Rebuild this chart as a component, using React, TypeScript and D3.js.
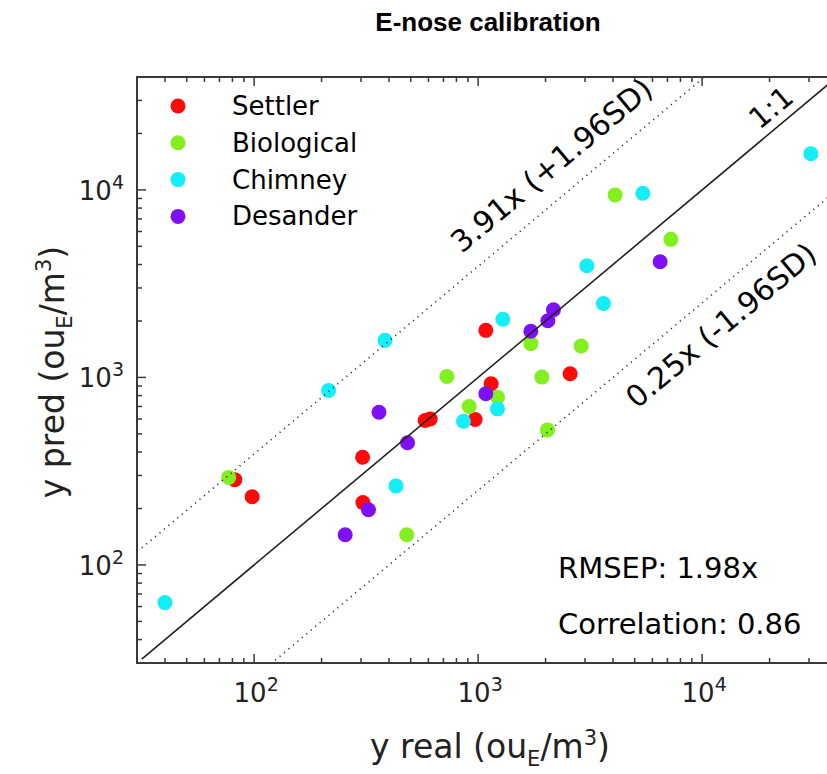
import * as d3 from "d3";

const width = 827;
const height = 774;

// data (ou_E/m3)
const settlerReal = [82, 98, 305, 306, 580, 611, 970, 1082, 1143, 2575];
const settlerPred = [285, 231, 375, 215, 589, 601, 596, 1783, 925, 1046];

const bioReal = [77, 480, 725, 912, 1220, 1719, 1925, 2039, 2883, 4089, 7250];
const bioPred = [293, 145, 1012, 700, 785, 1514, 1004, 525, 1470, 9404, 5450];

const chimneyReal = [40, 215, 384, 430, 860, 1220, 1289, 3057, 3626, 5436, 30580];
const chimneyPred = [63, 852, 1577, 264, 584, 680, 2043, 3937, 2478, 9603, 15580];

const desanderReal = [255, 324, 361, 484, 1082, 1719, 2048, 2169, 6494];
const desanderPred = [145, 197, 652, 448, 818, 1762, 2005, 2296, 4136];

const seriesNames = ["Settler", "Biological", "Chimney", "Desander"];
const seriesColors = ["#ff0a0a", "#82f01e", "#14eef6", "#8010f4"];

const majorTicks = [100, 1000, 10000];
const tickLabels = ["2", "3", "4"];

const upperFactor = 3.91;
const lowerFactor = 0.25;
const lineStart = 31.5;
const lineEnd = 60000;

const stats = ["RMSEP: 1.98x", "Correlation: 0.86"];

const margin = { left: 137, right: 837, top: 77, bottom: 663 };

export default function App() {
  const x = d3.scaleLog().domain([30, 40000]).range([margin.left, margin.right]);
  const y = d3.scaleLog().domain([30, 40000]).range([margin.bottom, margin.top]);

  const series = [
    [settlerReal, settlerPred],
    [bioReal, bioPred],
    [chimneyReal, chimneyPred],
    [desanderReal, desanderPred],
  ];

  const minor: number[] = [];
  [10, 100, 1000, 10000].forEach((dec) => {
    for (let k = 2; k <= 9; k++) {
      const v = dec * k;
      if (v >= 30 && v <= 40000) minor.push(v);
    }
  });

  const line = d3
    .line<number>()
    .x((d) => x(d))
    .y((d) => y(d));
  const lineFor = (f: number) =>
    d3
      .line<number>()
      .x((d) => x(d))
      .y((d) => y(d * f))([lineStart, lineEnd]) as string;

  const angle = (Math.atan2(y(1000) - y(10000), x(10000) - x(1000)) * 180) / Math.PI;

  const labelAt = (xv: number, f: number) => [x(xv), y(xv * f)];
  const oneOne = labelAt(23000, 1);
  const upper = labelAt(2600, upperFactor);
  const lower = labelAt(10000, lowerFactor);

  const font = "'DejaVu Sans', Verdana, sans-serif";
  const axisCol = "#3a3a3a";

  return (
    <svg width={width} height={height} style={{ position: "absolute", left: 0, top: 0 }} fontFamily={font}>
      <defs>
        <clipPath id="plot-clip">
          <rect x={margin.left} y={margin.top} width={margin.right - margin.left} height={margin.bottom - margin.top} />
        </clipPath>
      </defs>
      <rect width={width} height={height} fill="#fff" />
      <text x={488} y={31} textAnchor="middle" fontFamily="'Liberation Sans', Arial, sans-serif" fontWeight="bold" fontSize={26}>
        E-nose calibration
      </text>

      {/* points */}
      <g clipPath="url(#plot-clip)">
        {series.map(([xs, ys], i) => (
          <g key={i} fill={seriesColors[i]}>
            {xs.map((v, j) => (
              <circle key={j} cx={x(v)} cy={y(ys[j])} r={7.5} />
            ))}
          </g>
        ))}
        <path d={line([lineStart, lineEnd]) as string} stroke="#222" strokeWidth={1.6} fill="none" />
        <path d={lineFor(upperFactor)} stroke="#333" strokeWidth={1.6} strokeDasharray="1.2 4.6" fill="none" />
        <path d={lineFor(lowerFactor)} stroke="#333" strokeWidth={1.6} strokeDasharray="1.2 4.6" fill="none" />
      </g>

      {/* line labels */}
      <text transform={`translate(${oneOne[0]},${oneOne[1]}) rotate(${-angle})`} dy={-9} textAnchor="middle" fontSize={29}>
        1:1
      </text>
      <text transform={`translate(${upper[0]},${upper[1]}) rotate(${-angle})`} dy={-20} textAnchor="middle" fontSize={30}>
        3.91x (+1.96SD)
      </text>
      <text transform={`translate(${lower[0]},${lower[1]}) rotate(${-angle})`} dy={40} textAnchor="middle" fontSize={30}>
        0.25x (-1.96SD)
      </text>

      {/* legend */}
      {seriesNames.map((name, i) => (
        <g key={name} transform={`translate(178,${106 + i * 36.8})`}>
          <circle r={7.5} fill={seriesColors[i]} />
          <text x={54} dy={9} fontSize={26}>
            {name}
          </text>
        </g>
      ))}

      {/* stats */}
      {stats.map((s, i) => (
        <text key={s} x={558} y={578 + i * 56} fontSize={29}>
          {s}
        </text>
      ))}

      {/* axes frame */}
      <rect
        x={margin.left}
        y={margin.top}
        width={margin.right - margin.left}
        height={margin.bottom - margin.top}
        fill="none"
        stroke={axisCol}
        strokeWidth={2}
      />
      <g stroke={axisCol} strokeWidth={1.5}>
        {majorTicks.concat(minor).map((v) => {
          const len = majorTicks.includes(v) ? 9 : 5;
          return (
            <g key={v}>
              <line x1={x(v)} x2={x(v)} y1={margin.bottom} y2={margin.bottom - len} />
              <line x1={x(v)} x2={x(v)} y1={margin.top} y2={margin.top + len} />
              <line y1={y(v)} y2={y(v)} x1={margin.left} x2={margin.left + len} />
              <line y1={y(v)} y2={y(v)} x1={margin.right} x2={margin.right - len} />
            </g>
          );
        })}
      </g>

      {/* tick labels */}
      {majorTicks.map((v, i) => (
        <g key={v}>
          <text x={x(v) + 2} y={702} textAnchor="middle" fontSize={26} fill="#222">
            10
            <tspan fontSize={19} dy={-11}>
              {tickLabels[i]}
            </tspan>
          </text>
          <text x={124} y={y(v) + 10} textAnchor="end" fontSize={26} fill="#222">
            10
            <tspan fontSize={19} dy={-11}>
              {tickLabels[i]}
            </tspan>
          </text>
        </g>
      ))}

      {/* axis titles */}
      <text x={490} y={758} textAnchor="middle" fontSize={33} fill="#222">
        y real (ou
        <tspan fontSize={21} dy={8}>
          E
        </tspan>
        <tspan dy={-8}>/m</tspan>
        <tspan fontSize={21} dy={-13}>
          3
        </tspan>
        <tspan dy={13}>)</tspan>
      </text>
      <text transform={`translate(64,372) rotate(-90)`} textAnchor="middle" fontSize={33} fill="#222">
        y pred (ou
        <tspan fontSize={21} dy={8}>
          E
        </tspan>
        <tspan dy={-8}>/m</tspan>
        <tspan fontSize={21} dy={-13}>
          3
        </tspan>
        <tspan dy={13}>)</tspan>
      </text>
    </svg>
  );
}
